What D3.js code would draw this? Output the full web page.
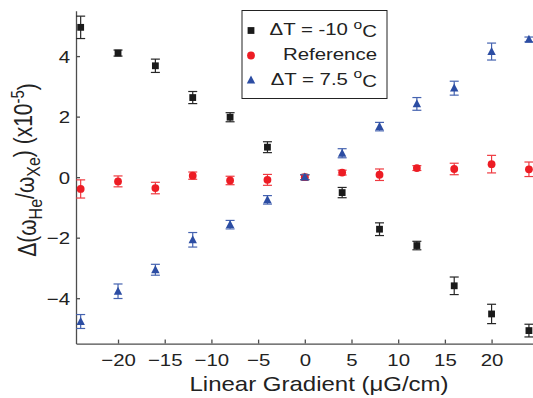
<!DOCTYPE html>
<html>
<head>
<meta charset="utf-8">
<script src="https://cdn.jsdelivr.net/npm/d3@7"></script>
<style>
  html, body { margin: 0; padding: 0; background: #fff; }
  svg { display: block; font-family: "Liberation Sans", Arial, Helvetica, sans-serif; }
</style>
</head>
<body>
<div id="chart"></div>
<script>
// gradient settings (µG/cm)
const gradients = [-24, -20, -16, -12, -8, -4, 0, 4, 8, 12, 16, 20, 24];

// ΔT = -10 °C
const coldValues = [4.95, 4.10, 3.68, 2.63, 1.98, 0.99, 0.00, -0.51, -1.72, -2.26, -3.59, -4.52, -5.07];
const coldErrors = [0.37, 0.10, 0.22, 0.20, 0.15, 0.18, 0.08, 0.17, 0.21, 0.14, 0.29, 0.32, 0.21];

// Reference
const refValues = [-0.39, -0.14, -0.36, 0.05, -0.11, -0.09, 0.00, 0.15, 0.08, 0.30, 0.27, 0.43, 0.26];
const refErrors = [0.30, 0.18, 0.19, 0.12, 0.14, 0.18, 0.08, 0.08, 0.19, 0.08, 0.19, 0.29, 0.24];

// ΔT = 7.5 °C
const hotValues = [-4.77, -3.77, -3.06, -2.07, -1.57, -0.75, 0.00, 0.79, 1.67, 2.42, 2.94, 4.15, 4.55];
const hotErrors = [0.23, 0.24, 0.18, 0.24, 0.14, 0.14, 0.08, 0.15, 0.14, 0.21, 0.23, 0.28, 0.08];

const xTicks = [-20, -15, -10, -5, 0, 5, 10, 15, 20];
const yTicks = [-4, -2, 0, 2, 4];

const width = 533;
const height = 398;
const stretch = 1.2; // the source figure is squeezed vertically

const x = d3.scaleLinear().domain([-24.5, 24.5]).range([76, 533.6]);
const y = d3.scaleLinear().domain([-5.5, 5.5]).range([343.6, 10.7]);

const svg = d3.select('#chart')
  .append('svg')
  .attr('width', width)
  .attr('height', height);

const axisColor = '#4d4d4d';

// axes, ticks point inward
const xAxis = svg.append('g')
  .attr('transform', `translate(0,${y(-5.5)})`)
  .call(d3.axisBottom(x).tickValues(xTicks).tickSizeInner(-4).tickSizeOuter(0).tickPadding(10));

const yAxis = svg.append('g')
  .attr('transform', `translate(${x(-24.5)},0)`)
  .call(d3.axisLeft(y).tickValues(yTicks).tickSizeInner(-4).tickSizeOuter(0).tickPadding(6));

[xAxis, yAxis].forEach(ax => {
  ax.select('.domain').attr('stroke', axisColor).attr('stroke-width', 1.3);
  ax.selectAll('.tick line').attr('stroke', axisColor).attr('stroke-width', 1.3);
  ax.selectAll('.tick text')
    .attr('fill', '#222')
    .style('font-size', '17px')
    .attr('transform', `scale(${stretch},1)`);
});
yAxis.selectAll('.tick text').attr('x', -5).attr('dy', '0.36em');

// series
const series = [
  { name: 'cold', values: coldValues, errors: coldErrors, color: '#1a1a1a', errColor: '#262626', shape: 'square' },
  { name: 'ref', values: refValues, errors: refErrors, color: '#ed1c24', errColor: '#ef3a40', shape: 'circle' },
  { name: 'hot', values: hotValues, errors: hotErrors, color: '#2c4da3', errColor: '#4563b0', shape: 'triangle' }
];

function drawMarker(g, shape, color) {
  if (shape === 'square') {
    g.append('rect').attr('x', -3.4).attr('y', -3.4).attr('width', 6.8).attr('height', 6.8).attr('fill', color);
  } else if (shape === 'circle') {
    g.append('circle').attr('r', 3.9).attr('fill', color);
  } else {
    g.append('path').attr('d', 'M0,-4.6L4.2,3.4L-4.2,3.4Z').attr('fill', color);
  }
}

series.forEach(s => {
  const pts = gradients.map((g, i) => ({ g: g, v: s.values[i], e: s.errors[i] }));
  const grp = svg.append('g').attr('class', s.name);

  const bars = grp.selectAll('.err')
    .data(pts)
    .enter()
    .append('g')
    .attr('class', 'err')
    .attr('stroke', s.errColor)
    .attr('stroke-width', 1.2);

  bars.append('line')
    .attr('x1', d => x(d.g)).attr('x2', d => x(d.g))
    .attr('y1', d => y(d.v + d.e)).attr('y2', d => y(d.v - d.e));
  bars.append('line')
    .attr('x1', d => x(d.g) - 4.5).attr('x2', d => x(d.g) + 4.5)
    .attr('y1', d => y(d.v + d.e)).attr('y2', d => y(d.v + d.e));
  bars.append('line')
    .attr('x1', d => x(d.g) - 4.5).attr('x2', d => x(d.g) + 4.5)
    .attr('y1', d => y(d.v - d.e)).attr('y2', d => y(d.v - d.e));

  grp.selectAll('.pt')
    .data(pts)
    .enter()
    .append('g')
    .attr('class', 'pt')
    .attr('transform', d => `translate(${x(d.g)},${y(d.v)})`)
    .each(function() { drawMarker(d3.select(this), s.shape, s.color); });
});

// axis titles
svg.append('text')
  .attr('transform', `translate(319,391) scale(${stretch},1)`)
  .attr('text-anchor', 'middle')
  .style('font-size', '20px')
  .attr('fill', '#222')
  .text('Linear Gradient (\u03bcG/cm)');

const yTitle = svg.append('text')
  .attr('transform', `translate(36,170) scale(${stretch},1) rotate(-90)`)
  .attr('text-anchor', 'middle')
  .style('font-size', '21px')
  .attr('fill', '#222');
yTitle.append('tspan').text('\u0394(\u03c9');
yTitle.append('tspan').attr('dy', '0.3em').style('font-size', '16px').text('He');
yTitle.append('tspan').attr('dy', '-0.3em').text('/\u03c9');
yTitle.append('tspan').attr('dy', '0.3em').style('font-size', '16px').text('Xe');
yTitle.append('tspan').attr('dy', '-0.3em').text(') (x10');
yTitle.append('tspan').attr('dy', '-0.45em').style('font-size', '15px').text('-5');
yTitle.append('tspan').attr('dy', '0.45em').text(')');

// legend
const legendLabels = [
  ['\u0394T = -10 ', 'o', 'C'],
  ['Reference', '', ''],
  ['\u0394T = 7.5 ', 'o', 'C']
];
const legendRows = [35, 60, 84.5];

const legend = svg.append('g');
legend.append('rect')
  .attr('x', 242).attr('y', 10.5)
  .attr('width', 145).attr('height', 88)
  .attr('fill', '#fff')
  .attr('stroke', '#222')
  .attr('stroke-width', 1);

series.forEach((s, i) => {
  const m = legend.append('g').attr('transform', `translate(251,${legendRows[i] - 4.5})`);
  drawMarker(m, s.shape, s.color);

  const t = legend.append('text')
    .attr('transform', `translate(377,${legendRows[i]}) scale(${stretch},1)`)
    .attr('text-anchor', 'end')
    .style('font-size', '17px')
    .attr('fill', '#222');
  t.append('tspan').text(legendLabels[i][0]);
  if (legendLabels[i][1]) {
    t.append('tspan').attr('dy', '-0.5em').style('font-size', '13px').text(legendLabels[i][1]);
    t.append('tspan').attr('dy', '0.5em').text(legendLabels[i][2]);
  }
});
</script>
</body>
</html>
